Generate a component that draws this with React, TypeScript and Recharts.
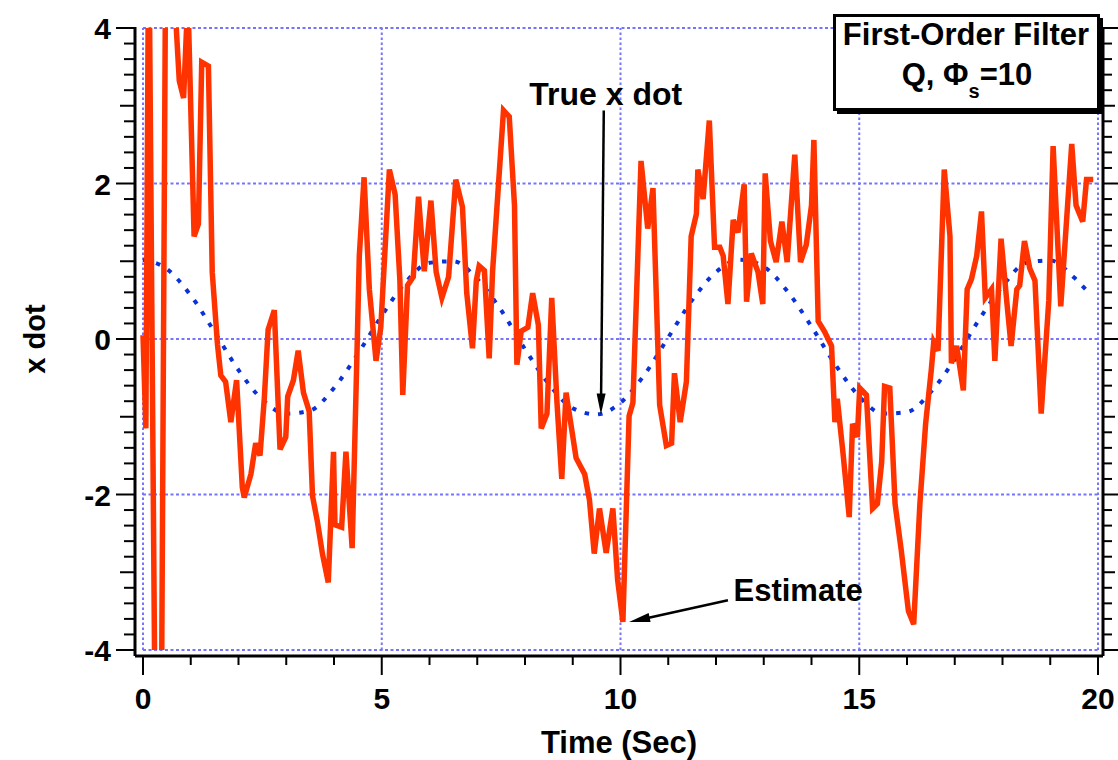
import { LineChart, Line, XAxis, YAxis, ReferenceLine, ReferenceDot } from 'recharts'

const FONT = '"Liberation Sans", Arial, Helvetica, sans-serif'
const RED = '#ff3300'
const BLUE = '#0a32d8'
const GRID = '#7474ff'

// Estimate (filter output), time in seconds
const EST_T = [
  0.0, 0.06, 0.12, 0.33, 0.52, 0.65, 0.76, 0.85, 0.94, 1.07, 1.16, 1.23, 1.37, 1.45, 1.56, 1.63,
  1.73, 1.84, 1.96, 2.08, 2.12, 2.26, 2.36, 2.45, 2.54, 2.62, 2.75, 2.87, 2.99, 3.03, 3.15, 3.25,
  3.36, 3.48, 3.55, 3.65, 3.76, 3.88, 3.99, 4.02, 4.16, 4.25, 4.38, 4.49, 4.53, 4.63, 4.74, 4.88,
  4.98, 5.16, 5.28, 5.38, 5.44, 5.54, 5.66, 5.77, 5.89, 6.03, 6.14, 6.26, 6.4, 6.55, 6.69, 6.78,
  6.9, 6.98, 7.04, 7.15, 7.25, 7.32, 7.55, 7.67, 7.78, 7.83, 7.92, 8.06, 8.16, 8.28, 8.34, 8.46,
  8.56, 8.67, 8.77, 8.86, 9.07, 9.25, 9.35, 9.45, 9.56, 9.7, 9.84, 9.94, 10.05, 10.18, 10.26, 10.43,
  10.57, 10.68, 10.82, 10.96, 11.07, 11.13, 11.25, 11.38, 11.48, 11.59, 11.62, 11.73, 11.86, 11.97,
  12.08, 12.15, 12.25, 12.36, 12.46, 12.59, 12.64, 12.74, 12.88, 12.98, 13.03, 13.14, 13.26, 13.38,
  13.49, 13.65, 13.77, 13.89, 14.0, 14.05, 14.14, 14.27, 14.42, 14.49, 14.54, 14.66, 14.79, 14.86,
  14.96, 15.01, 15.15, 15.28, 15.38, 15.47, 15.53, 15.64, 15.75, 15.88, 16.03, 16.14, 16.27, 16.39,
  16.51, 16.56, 16.65, 16.78, 16.9, 16.93, 17.04, 17.18, 17.26, 17.35, 17.46, 17.56, 17.64, 17.77,
  17.84, 17.97, 18.09, 18.18, 18.3, 18.36, 18.46, 18.57, 18.68, 18.81, 18.97, 19.06, 19.22, 19.45,
  19.54, 19.68, 19.76, 19.9,
]
const EST_V = [
  0.05, -1.15, 5.5, -11, 10, 4.5, 3.32, 3.1, 4.4, 1.32, 1.48, 3.56, 3.51, 0.86, -0.07, -0.47,
  -0.55, -1.07, -0.53, -1.91, -2.04, -1.74, -1.34, -1.5, -0.77, 0.12, 0.37, -1.42, -1.26, -0.74, -0.53, -0.15,
  -0.69, -0.93, -2.02, -2.34, -2.77, -3.13, -1.45, -2.39, -2.42, -1.45, -2.69, 0.04, 1.07, 2.08, 0.64, -0.28,
  0.15, 2.18, 1.86, 0.75, -0.72, 0.69, 0.8, 1.83, 0.87, 1.78, 0.86, 0.53, 0.8, 2.05, 1.7, 0.59,
  -0.12, 0.75, 0.94, 0.88, -0.25, 0.86, 2.94, 2.86, 1.72, -0.33, 0.1, 0.15, 0.59, 0.18, -1.15, -0.96,
  0.53, -0.82, -1.8, -0.69, -1.53, -1.74, -2.07, -2.76, -2.18, -2.75, -2.18, -3.1, -3.64, -0.99, -0.82, 2.29,
  1.42, 1.94, -0.85, -1.37, -1.34, -0.44, -1.07, -0.55, 1.32, 1.61, 2.18, 1.8, 2.81, 1.18,
  1.18, 1.07, 0.45, 1.53, 1.37, 1.99, 0.48, 1.1, 0.86, 0.45, 2.13, 1.26, 0.99, 1.51,
  0.99, 2.37, 0.99, 1.21, 1.72, 2.56, 0.23, 0.1, -0.09, -1.07, -0.77, -1.47, -2.29, -1.09,
  -1.26, -0.63, -0.72, -2.18, -2.12, -1.58, -0.61, -0.63, -2.12, -2.72, -3.5, -3.67, -2.12, -1.09,
  -0.39, -0.04, -0.15, 2.18, 1.32, -0.31, -0.09, -0.66, 0.64, 0.77, 1.07, 1.64, 0.53, 0.64,
  -0.28, 1.29, 0.48, -0.09, 0.64, 0.69, 1.26, 0.91, 0.75, -0.96, 0.5, 2.48, 0.42, 2.51,
  1.72, 1.51, 2.05, 2.05,
]

// True x dot
const TRUE_T = [
  0, 0.5, 1, 1.5, 2, 2.5, 3, 3.5, 4, 4.5, 5, 5.5, 6, 6.5, 7, 7.5, 8, 8.5, 9, 9.5, 10,
  10.5, 11, 11.5, 12, 12.5, 13, 13.5, 14, 14.5, 15, 15.5, 16, 16.5, 17, 17.5, 18, 18.5, 19, 19.5, 19.8,
]
const TRUE_V = [
  1.02, 0.9, 0.56, 0.09, -0.4, -0.78, -0.96, -0.92, -0.63, -0.19, 0.3, 0.73, 0.98, 1.0, 0.77, 0.37, -0.13, -0.58, -0.89, -0.97, -0.82,
  -0.46, 0.02, 0.5, 0.86, 1.02, 0.93, 0.61, 0.16, -0.33, -0.74, -0.96, -0.94, -0.68, -0.26, 0.24, 0.68, 0.98, 1.01, 0.79, 0.6,
]

const X_TICKS = [0, 1, 2, 3, 4, 5, 6, 7, 8, 9, 10, 11, 12, 13, 14, 15, 16, 17, 18, 19, 20]
const Y_TICKS = [
  -4, -3.8, -3.6, -3.4, -3.2, -3, -2.8, -2.6, -2.4, -2.2, -2, -1.8, -1.6, -1.4, -1.2, -1, -0.8, -0.6, -0.4, -0.2,
  0, 0.2, 0.4, 0.6, 0.8, 1, 1.2, 1.4, 1.6, 1.8, 2, 2.2, 2.4, 2.6, 2.8, 3, 3.2, 3.4, 3.6, 3.8, 4,
]
const X_GRID = [0, 5, 10, 15, 20]
const Y_GRID = [-4, -2, 0, 2, 4]

const estData = EST_T.map((t, i) => ({ t, v: EST_V[i] }))
const trueData = TRUE_T.map((t, i) => ({ t, v: TRUE_V[i] }))

const txt = { fontFamily: FONT, fontWeight: 'bold' as const, fill: '#000' }

function XTick({ x, y, payload }: any) {
  const v = payload.value
  const major = v % 5 === 0
  return (
    <g>
      <line x1={x} y1={y} x2={x} y2={y + (major ? 19 : 9)} stroke="#000" strokeWidth={2} />
      {major && (
        <text x={x} y={y + 53} textAnchor="middle" fontSize={30} {...txt}>
          {v}
        </text>
      )}
    </g>
  )
}

function YTick({ x, y, payload }: any) {
  const v = payload.value
  const r = Math.round(v * 5)
  const major = r % 10 === 0
  const len = major ? 19 : r % 5 === 0 ? 15 : 11
  return (
    <g>
      <line x1={x - len} y1={y} x2={x} y2={y} stroke="#000" strokeWidth={2} />
      {major && (
        <text x={x - 24} y={y + 11} textAnchor="end" fontSize={30} {...txt}>
          {v}
        </text>
      )}
    </g>
  )
}

function RTick({ x, y, payload }: any) {
  const r = Math.round(payload.value * 5)
  const len = r % 10 === 0 ? 15 : r % 5 === 0 ? 12 : 9
  return <line x1={x} y1={y} x2={x + len} y2={y} stroke="#000" strokeWidth={2} />
}

function Arrow({ x1, y1, x2, y2 }: any) {
  const a = Math.atan2(y2 - y1, x2 - x1)
  const L = 21
  const W = 4.5
  const bx = x2 - L * Math.cos(a)
  const by = y2 - L * Math.sin(a)
  const px = -Math.sin(a) * W
  const py = Math.cos(a) * W
  return (
    <g>
      <line x1={x1} y1={y1} x2={bx + 2 * Math.cos(a)} y2={by + 2 * Math.sin(a)} stroke="#000" strokeWidth={2.5} />
      <polygon points={`${x2},${y2} ${bx + px},${by + py} ${bx - px},${by - py}`} fill="#000" />
    </g>
  )
}

const note = (s: string, size: number) => (p: any) => (
  <text x={p.cx} y={p.cy} textAnchor="middle" fontSize={size} {...txt}>
    {s}
  </text>
)

export default function App() {
  return (
    <div style={{ position: 'absolute', left: 0, top: 0, width: 1118, height: 760, background: '#fff' }}>
      <LineChart width={1118} height={760} margin={{ top: 0, right: 0, bottom: 0, left: 0 }}>
        <XAxis
          type="number"
          dataKey="t"
          domain={[0, 20]}
          ticks={X_TICKS}
          interval={0}
          height={104}
          padding={{ left: 8, right: 5 }}
          tickSize={0}
          tickMargin={0}
          tickLine={false}
          tick={<XTick />}
          axisLine={{ stroke: '#000', strokeWidth: 3 }}
          label={(p: any) => {
            const vb = p.viewBox || { x: 135, y: 656, width: 968, height: 104 }
            return (
              <text x={vb.x + vb.width / 2} y={vb.y + 97} textAnchor="middle" fontSize={31} {...txt}>
                Time (Sec)
              </text>
            )
          }}
        />
        <YAxis
          type="number"
          domain={[-4, 4]}
          allowDataOverflow
          ticks={Y_TICKS}
          interval={0}
          width={135}
          padding={{ top: 28, bottom: 6 }}
          tickSize={0}
          tickMargin={0}
          tickLine={false}
          tick={<YTick />}
          axisLine={{ stroke: '#000', strokeWidth: 3, strokeDasharray: '0 27 2000' }}
          label={(p: any) => {
            const vb = p.viewBox || { x: 0, y: 0, width: 135, height: 656 }
            const cx = vb.x + 35
            const cy = vb.y + 339
            return (
              <text x={cx} y={cy} transform={`rotate(-90, ${cx}, ${cy})`} textAnchor="middle" dominantBaseline="central" fontSize={29} {...txt}>
                x dot
              </text>
            )
          }}
        />
        <YAxis
          yAxisId="r"
          orientation="right"
          type="number"
          domain={[-4, 4]}
          allowDataOverflow
          ticks={Y_TICKS}
          interval={0}
          width={15}
          padding={{ top: 28, bottom: 6 }}
          tickSize={0}
          tickMargin={0}
          tickLine={false}
          tick={<RTick />}
          axisLine={{ stroke: '#000', strokeWidth: 3, strokeDasharray: '0 27 2000' }}
        />

        {X_GRID.map((g) => (
          <ReferenceLine
            key={'gx' + g}
            segment={[{ x: g, y: -4 }, { x: g, y: 4 }]}
            stroke={GRID}
            strokeWidth={2}
            strokeDasharray="2.5 2.5"
          />
        ))}
        {Y_GRID.map((g) => (
          <ReferenceLine
            key={'gy' + g}
            segment={[{ x: 0, y: g }, { x: 20, y: g }]}
            stroke={GRID}
            strokeWidth={2}
            strokeDasharray="3 2.5"
          />
        ))}

        <Line
          data={trueData}
          dataKey="v"
          type="monotone"
          stroke={BLUE}
          strokeWidth={4}
          strokeDasharray="4.5 9"
          dot={false}
          activeDot={false}
          isAnimationActive={false}
        />
        <Line
          data={estData}
          dataKey="v"
          type="linear"
          stroke={RED}
          strokeWidth={5.5}
          dot={false}
          activeDot={false}
          isAnimationActive={false}
        />

        <ReferenceLine segment={[{ x: 9.65, y: 2.94 }, { x: 9.59, y: -0.97 }]} shape={Arrow} />
        <ReferenceLine segment={[{ x: 12.25, y: -3.36 }, { x: 10.18, y: -3.64 }]} shape={Arrow} />
        <ReferenceDot x={9.69} y={3.01} r={0} shape={note('True x dot', 32)} />
        <ReferenceDot x={13.72} y={-3.37} r={0} shape={note('Estimate', 31)} />
      </LineChart>

      <svg width={1118} height={760} style={{ position: 'absolute', left: 0, top: 0, pointerEvents: 'none' }}>
        <rect x={837} y={18} width={266} height={96} fill="#000" />
        <rect x={834.5} y={15.5} width={264} height={94} fill="#fff" stroke="#000" strokeWidth={3} />
        <text x={966} y={45} textAnchor="middle" fontSize={31} {...txt}>
          First-Order Filter
        </text>
        <text x={967} y={85} textAnchor="middle" fontSize={31} {...txt}>
          Q, Φ
          <tspan dy={13} fontSize={20}>
            s
          </tspan>
          <tspan dy={-13}>=10</tspan>
        </text>
      </svg>
    </div>
  )
}
